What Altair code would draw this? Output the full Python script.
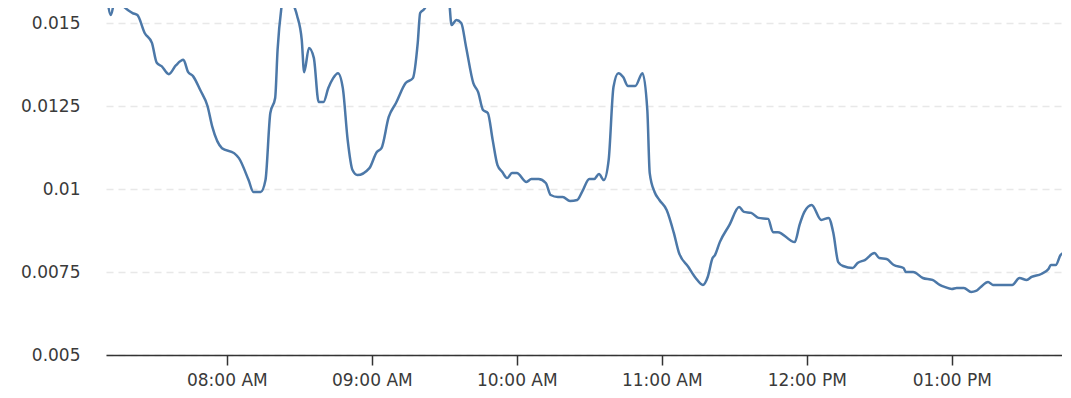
import altair as alt
import pandas as pd

times = [
    "07:10", "07:12", "07:14", "07:16", "07:21", "07:23", "07:26", "07:29", "07:31", "07:33",
    "07:36", "07:39", "07:42", "07:44", "07:46", "07:49", "07:52", "07:54", "07:58", "08:03",
    "08:05", "08:09", "08:11", "08:14", "08:16", "08:18", "08:20", "08:21", "08:23", "08:25",
    "08:27", "08:29", "08:31", "08:32", "08:34", "08:36", "08:38", "08:40", "08:42", "08:44",
    "08:46", "08:48", "08:50", "08:52", "08:54", "08:59", "09:02", "09:04", "09:07", "09:10",
    "09:14", "09:17", "09:19", "09:20", "09:22", "09:23", "09:27", "09:30", "09:32", "09:33",
    "09:35", "09:37", "09:39", "09:42", "09:44", "09:46", "09:48", "09:50", "09:52", "09:54",
    "09:56", "09:58", "10:00", "10:04", "10:06", "10:09", "10:12", "10:14", "10:17", "10:19",
    "10:22", "10:25", "10:27", "10:30", "10:32", "10:34", "10:36", "10:38", "10:40", "10:42",
    "10:44", "10:46", "10:49", "10:52", "10:54", "10:55", "10:57", "10:59", "11:02", "11:05",
    "11:07", "11:11", "11:14", "11:17", "11:19", "11:21", "11:22", "11:24", "11:28", "11:32",
    "11:34", "11:37", "11:40", "11:44", "11:46", "11:48", "11:55", "11:57", "11:59", "12:02",
    "12:06", "12:09", "12:11", "12:13", "12:15", "12:19", "12:21", "12:24", "12:28", "12:30",
    "12:33", "12:36", "12:40", "12:41", "12:44", "12:48", "12:52", "12:55", "12:57", "13:00",
    "13:02", "13:05", "13:08", "13:10", "13:12", "13:15", "13:17", "13:25", "13:28", "13:31",
    "13:33", "13:37", "13:40", "13:41", "13:43", "13:45", "13:47",
]

values = [
    0.0161, 0.01524, 0.0158, 0.0156, 0.0153, 0.01524, 0.0147, 0.0144, 0.0138, 0.0137,
    0.01346, 0.01373, 0.01389, 0.01352, 0.0134, 0.01298, 0.0125, 0.01187, 0.01123, 0.01108,
    0.01093, 0.01027, 0.00991, 0.00991, 0.01027, 0.01229, 0.01274, 0.01419, 0.01569, 0.0163,
    0.01569, 0.01524, 0.01449, 0.01352, 0.01425, 0.01395, 0.01262, 0.01262, 0.01304, 0.01334,
    0.01349, 0.01304, 0.01148, 0.01057, 0.01042, 0.01063, 0.01111, 0.01123, 0.01217, 0.01259,
    0.01319, 0.01334, 0.0144, 0.0153, 0.01545, 0.01569, 0.0168, 0.0168, 0.01569, 0.01494,
    0.01509, 0.015, 0.01428, 0.01319, 0.01292, 0.01238, 0.01229, 0.01148, 0.01072, 0.01051,
    0.01033, 0.01048, 0.01048, 0.01021, 0.0103, 0.0103, 0.01018, 0.00982, 0.00976, 0.00976,
    0.00964, 0.00967, 0.00991, 0.0103, 0.0103, 0.01045, 0.01027, 0.01087, 0.01307, 0.01349,
    0.01337, 0.0131, 0.0131, 0.01349, 0.01238, 0.01048, 0.00991, 0.00967, 0.00937, 0.00867,
    0.0081, 0.00765, 0.00732, 0.00711, 0.00735, 0.00792, 0.00801, 0.0084, 0.00892, 0.00946,
    0.00931, 0.00928, 0.00913, 0.0091, 0.0087, 0.0087, 0.0084, 0.00892, 0.00931, 0.00952,
    0.00907, 0.00913, 0.00867, 0.0078, 0.00768, 0.00762, 0.00777, 0.00786, 0.00807, 0.00792,
    0.00789, 0.00771, 0.00762, 0.0075, 0.0075, 0.00732, 0.00726, 0.00711, 0.00705, 0.00699,
    0.00702, 0.00702, 0.0069, 0.00693, 0.00705, 0.0072, 0.00711, 0.00711, 0.00732, 0.00726,
    0.00735, 0.00744, 0.00759, 0.00771, 0.00771, 0.00801, 0.0081,
]

y_ticks = [0.005, 0.0075, 0.01, 0.0125, 0.015]
x_tick_hours = [8, 9, 10, 11, 12, 13]

df = pd.DataFrame({"time": ["2024-01-01T" + t + ":00" for t in times], "value": values})

def dt(h, m=0, s=0):
    return alt.DateTime(year=2024, month=1, date=1, hours=h, minutes=m, seconds=s)

font = "DejaVu Sans"

chart = (
    alt.Chart(df)
    .mark_line(color="#4c78a8", strokeWidth=2.5, interpolate="monotone", clip=True)
    .encode(
        x=alt.X(
            "time:T",
            scale=alt.Scale(domain=[dt(7, 10), dt(13, 45, 36)], nice=False),
            axis=alt.Axis(
                title=None,
                values=[dt(h) for h in x_tick_hours],
                format="%I:%M %p",
                grid=False,
                domainColor="#333333",
                domainWidth=1.5,
                tickColor="#333333",
                tickWidth=1.5,
                tickSize=10,
                labelPadding=7,
                labelFont=font,
                labelFontSize=17,
                labelColor="#3a3a3a",
                labelFlush=False,
            ),
        ),
        y=alt.Y(
            "value:Q",
            scale=alt.Scale(domain=[0.005, 0.015452], nice=False, zero=False),
            axis=alt.Axis(
                title=None,
                values=y_ticks,
                format=".4~f",
                domain=False,
                ticks=False,
                tickSize=0,
                labelPadding=26,
                labelFont=font,
                labelFontSize=17,
                labelColor="#3a3a3a",
                gridColor="#e8e8e8",
                gridWidth=1.5,
                gridDash=[7, 5],
                labelFlush=False,
            ),
        ),
    )
    .properties(
        width=956,
        height=347,
        autosize=alt.AutoSizeParams(type="none"),
        padding={"left": 98, "top": 0, "right": 0, "bottom": 33},
    )
    .configure_view(stroke=None)
)

chart.save("out.html", embed_options={"renderer": "svg", "actions": False})
